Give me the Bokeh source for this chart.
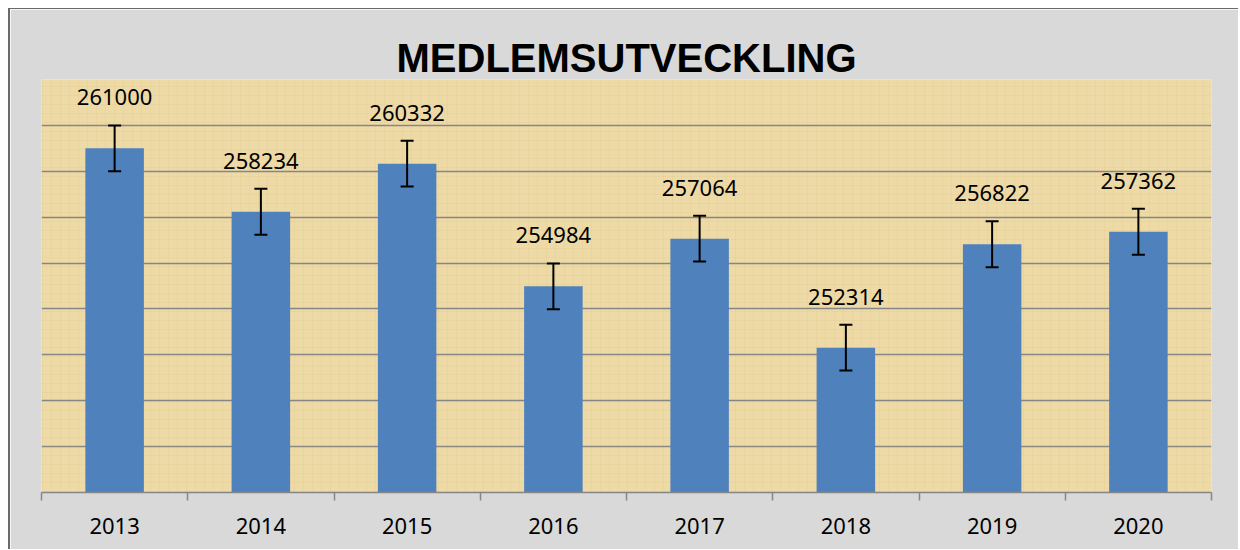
from bokeh.plotting import figure
from bokeh.models import (ColumnDataSource, Range1d, FixedTicker, SingleIntervalTicker,
                          Whisker, TeeHead, LabelSet, BoxAnnotation)
from bokeh.core.properties import value
from bokeh.embed import file_html
from bokeh.resources import INLINE

# ---- data ----
years = ["2013", "2014", "2015", "2016", "2017", "2018", "2019", "2020"]
members = [261000, 258234, 260332, 254984, 257064, 252314, 256822, 257362]
errors = [1000, 1000, 1000, 1000, 1000, 1000, 1000, 1000]
y_min, y_max, y_step = 246000, 264000, 2000

idx = list(range(len(years)))
src = ColumnDataSource(dict(
    x=idx,
    top=members,
    upper=[m + e for m, e in zip(members, errors)],
    lower=[m - e for m, e in zip(members, errors)],
    label=[str(m) for m in members],
))

p = figure(width=1230, height=541, output_backend="svg", toolbar_location=None,
           x_range=Range1d(-0.5, len(years) - 0.5), y_range=Range1d(y_min, y_max),
           min_border_left=31, min_border_right=29, min_border_top=70, min_border_bottom=58,
           title="MEDLEMSUTVECKLING")
p.margin = (8, 0, 0, 8)
p.styles = {"border-left": "2px solid #6a6a6a", "border-top": "1px solid #6a6a6a"}

p.border_fill_color = "#D9D9D9"
p.background_fill_color = "#EEDAA6"
p.outline_line_color = None

# papyrus-like texture
p.add_layout(BoxAnnotation(fill_color=None, line_color=None, hatch_pattern="+",
                           hatch_color="#C4A866", hatch_alpha=0.10, hatch_scale=9,
                           hatch_weight=1, level="underlay"))

p.title.text_font = "Liberation Sans"
p.title.text_font_style = "bold"
p.title.text_font_size = "40px"
p.title.text_color = "black"
p.title.align = "center"
p.title.standoff = 0

p.vbar(x="x", top="top", bottom=y_min, width=0.4, source=src,
       fill_color="#4F81BD", line_color=None)

p.add_layout(Whisker(base="x", upper="upper", lower="lower", source=src,
                     line_color="black", line_width=2, level="overlay",
                     upper_head=TeeHead(size=13, line_color="black", line_width=2),
                     lower_head=TeeHead(size=13, line_color="black", line_width=2)))

p.add_layout(LabelSet(x="x", y="upper", text="label", source=src, y_offset=20,
                      text_align="center", text_baseline="alphabetic",
                      text_font=value("Noto Sans"), text_font_size=value("22px"),
                      text_color="black"))

# axes
p.yaxis.visible = False
p.xgrid.visible = False
p.ygrid.ticker = SingleIntervalTicker(interval=y_step)
p.ygrid.grid_line_color = "#868686"
p.ygrid.grid_line_width = 1.5

xa = p.xaxis[0]
xa.ticker = FixedTicker(ticks=idx, minor_ticks=[i - 0.5 for i in range(len(years) + 1)])
xa.major_label_overrides = {i: y for i, y in zip(idx, years)}
xa.major_tick_out = 0
xa.major_tick_in = 0
xa.minor_tick_out = 8
xa.minor_tick_in = 0
xa.minor_tick_line_color = "#868686"
xa.minor_tick_line_width = 1.5
xa.axis_line_color = "#868686"
xa.axis_line_width = 1.5
xa.major_label_standoff = 17
xa.major_label_text_font = "Noto Sans"
xa.major_label_text_font_size = "22px"
xa.major_label_text_color = "black"

open("out.html", "w").write(file_html(p, INLINE))
